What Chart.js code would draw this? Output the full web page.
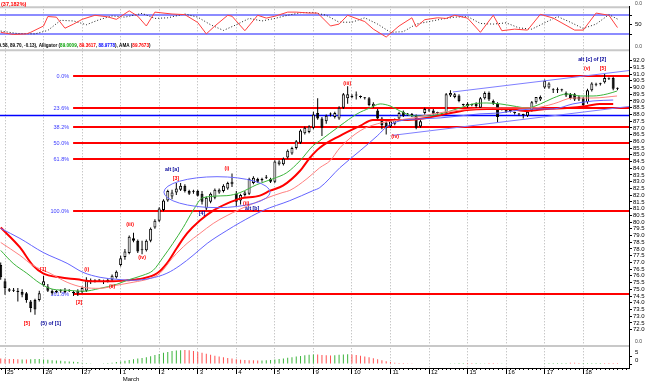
<!DOCTYPE html>
<html><head><meta charset="utf-8">
<script src="https://cdn.jsdelivr.net/npm/chart.js@4.4.0/dist/chart.umd.min.js"></script>
<style>html,body{margin:0;padding:0;background:#fff;overflow:hidden}</style>
</head><body>
<canvas id="c" width="650" height="381"></canvas>
<script>
// ---------- DATA ----------
const dayIdx = [1,10,19,28,37,46,55,64,73,82,91,100,109,118,127,136];
const dayLabels = ['25','26','27',['1','March'],'2','3','4','5','9','10','11','12','15','16','17','18'];
const mainTicks = [72,72.5,73,73.5,74,74.5,75,75.5,76,76.5,77,77.5,78,78.5,79,79.5,80,80.5,81,81.5,82,82.5,83,83.5,84,84.5,85,85.5,86,86.5,87,87.5,88,88.5,89,89.5,90,90.5,91,91.5,92];
const stochTicks = [20,50,80];
const histTicks = [0,5];

const opens = [76.8,75.6,75.0,74.9,74.9,74.8,74.7,74.1,74.2,74.2, 75.3,75.2,74.9,74.8,74.85,74.8,74.9,74.8,74.7,74.8, 74.9,75.6,75.6,75.65,75.6,75.6,75.7,75.9,76.8,77.4, 77.7,78.8,78.6,77.9,77.9,78.6,79.6,80.1,80.9,81.6, 81.9,82.2,82.4,82.7,82.3,82.25,82.3,82.1,81.0,81.5, 81.8,82.2,82.3,82.5,82.8,82.1,81.6,82.0,82.1,82.9, 83.2,83.1,83.3,83.2,83.0,84.3,84.3,84.8,85.1,85.5, 85.9,86.6,86.7,87.0,88.1,87.7,87.5,88.0,87.8,87.7, 88.5,89.2,89.3,89.4,89.3,89.2,89.2,88.6,88.3,87.7, 87.4,87.1,87.3,87.7,88.2,88.0,87.95,87.9,87.1,88.1, 88.3,88.3,88.1,88.0,88.1,89.4,89.3,89.4,88.7,88.8, 88.7,88.8,88.5,89.2,89.6,89.0,88.8,88.4,88.4,88.25, 88.1,88.0,87.95,87.9,88.3,88.9,89.1,90.0,90.0,89.8, 89.8,89.8,89.6,89.5,89.5,89.3,89.2,88.9,89.8,90.2, 90.25,90.4,90.65,90.7,89.9];
const highs = [77.0,75.8,75.1,75.1,75.1,75.0,74.8,74.2,74.3,74.9, 76.0,75.4,75.0,74.95,75.0,75.1,75.0,74.9,75.0,75.2, 75.9,75.8,75.75,75.75,75.7,75.8,76.1,76.4,77.5,78.0, 79.0,79.2,78.7,78.6,78.7,79.6,80.2,81.1,81.7,82.4, 82.4,82.9,82.9,82.8,82.4,82.4,82.4,82.3,81.9,82.2, 82.5,82.5,82.8,83.0,83.6,82.3,82.1,82.3,83.3,83.4, 83.3,83.3,83.5,83.3,84.6,84.6,84.8,85.4,85.6,86.1, 86.9,87.1,87.2,88.2,89.2,87.8,88.0,88.15,88.2,88.6, 89.6,90.1,89.5,89.7,89.4,89.3,89.3,88.9,88.4,87.8, 87.5,87.6,87.7,88.2,88.3,88.1,88.1,88.0,87.6,88.5, 88.4,88.4,88.2,88.1,89.6,89.8,89.6,89.5,88.8,88.9, 88.8,88.9,89.3,89.7,89.7,89.1,88.9,88.5,88.5,88.35, 88.2,88.1,88.05,88.3,89.0,89.3,89.4,90.6,90.4,89.95, 90.0,89.9,89.7,89.6,89.6,89.4,89.3,89.9,90.4,90.35, 90.35,91.0,90.75,90.8,90.0];
const lows = [75.7,74.6,74.8,74.8,74.1,74.4,74.0,73.3,73.1,74.1, 75.2,74.8,74.6,74.7,74.75,74.7,74.8,74.5,74.5,74.7, 74.8,75.4,75.5,75.55,75.4,75.5,75.6,75.8,76.7,77.2, 77.6,78.5,77.7,77.6,77.8,78.5,79.5,80.0,80.8,81.5, 81.7,82.0,82.3,82.2,82.0,82.1,81.9,81.3,80.9,81.4, 81.7,82.1,82.2,82.4,82.6,81.2,81.3,81.9,82.0,82.8, 82.9,83.0,83.2,82.9,82.9,84.2,84.2,84.7,85.0,85.4, 85.8,86.5,86.6,86.9,87.6,86.4,87.3,87.85,87.7,87.6, 88.4,88.8,89.2,89.1,89.2,89.1,88.6,88.5,87.6,86.9, 86.5,87.0,87.2,87.6,87.8,87.9,87.8,86.9,87.0,88.0, 88.2,88.0,88.0,87.9,88.0,89.3,89.2,88.9,88.6,88.5, 88.6,88.5,88.4,89.1,89.0,88.7,87.4,88.3,88.1,88.15, 88.0,87.9,87.7,87.8,88.2,88.8,89.0,89.9,89.9,89.6, 89.6,89.7,89.3,89.1,89.0,89.0,88.6,88.8,89.7,90.1, 90.15,90.3,90.55,89.8,89.8];
const closes = [75.9,75.1,74.9,74.95,74.8,74.6,74.2,73.6,73.5,74.7, 75.6,74.9,74.7,74.85,74.85,74.9,74.9,74.7,74.9,75.1, 75.7,75.6,75.65,75.65,75.55,75.7,76.0,76.3,77.3,77.8, 78.9,78.6,77.8,77.9,78.6,79.5,80.1,81.0,81.6,82.3, 82.2,82.5,82.7,82.3,82.1,82.3,81.95,81.5,81.8,82.1, 82.4,82.4,82.7,82.9,83.0,81.5,82.0,82.2,83.2,83.3, 83.0,83.2,83.3,83.0,84.5,84.5,84.7,85.3,85.5,86.0, 86.8,87.0,87.1,88.0,87.7,87.0,87.9,88.0,88.1,88.5, 89.5,89.5,89.3,89.4,89.3,89.2,88.7,88.8,87.7,87.2, 87.0,87.5,87.6,88.1,87.9,88.0,87.95,87.0,87.5,88.4, 88.3,88.05,88.1,88.0,89.5,89.6,89.5,89.0,88.7,88.6, 88.7,88.6,89.2,89.6,89.1,88.8,87.8,88.4,88.2,88.25, 88.1,88.0,87.95,88.2,88.9,89.3,89.3,90.5,90.3,89.8, 89.8,89.8,89.4,89.2,89.1,89.1,88.7,89.8,90.3,90.25, 90.25,90.7,90.65,89.9,89.9];

// Alligator / AMA lines (bar index, value)
const amaIdx = [0,4.5,7.5,9.9,13.8,17.8,21.5,25.5,29.5,33.2, 36.5,38.8,41.2,43.5,46.5,49.6,52.8,55.9,60.5,62.9, 65.9,69.9,72.2,74.5,79.2,83.9,86.9,90.2,94.9,99.5, 104.2,108.9,113.5,118.2,122.9,127.5,132.2,136.9,139.9,143];
const amaVal = [79.59,78.11,76.78,76.19,75.89,75.74,75.59,75.59,75.67,75.81, 76.19,76.93,78.11,79.15,80.11,80.85,81.37,81.74,81.96,82.33, 82.70,83.81,84.78,85.52,86.41,87.15,87.59,87.59,87.59,87.74, 88.04,88.33,88.41,88.41,88.26,88.41,88.48,88.63,88.78,88.78];
const teethIdx = [0,4.5,7.5,11.5,15.5,19.2,23.2,27.1,30.9,34.9, 37.2,40.2,43.5,46.5,49.6,54.2,58.9,63.6,65.9,67.5, 71.5,74.5,76.9,79.2,83.9,87.9,91.6,96.3,100.9,105.6, 110.3,114.9,119.6,124.3,129,133.6,138.3,143.9];
const teethVal = [78.48,77.52,76.78,76.19,75.52,75.15,75.07,75.30,75.52,75.81, 76.19,77.37,78.41,79.15,79.89,80.70,81.37,81.96,82.20,82.35, 83.22,84.04,84.56,85.52,86.78,87.30,87.52,87.74,88.04,88.26, 88.41,88.48,88.48,88.48,88.78,89.22,89.22,89.37];
const lipsIdx = [0,2.9,6.1,9.2,12.2,15.5,19.2,23.2,27.1,29.5, 33.2,35.6,37.9,40.2,42.6,44.9,47.2,52.8,55.9,59.8, 63.6,66.8,69.9,72.9,74.5,79.2,83.2,86.2,88.6,90.9, 93.2,96.3,99.5,102.6,107.2,110.3,113.5,116.6,119.6,122.9, 126,129,132.2,135.3,138.3,141.6,143.9];
const lipsVal = [77.89,76.93,76.19,75.44,75.00,74.93,74.85,75.07,75.37,75.67, 76.04,76.41,77.37,78.41,79.59,80.85,81.81,81.96,82.19,82.78, 83.22,83.67,84.56,85.67,86.04,87.15,88.04,88.48,88.78,88.63, 88.26,87.89,87.89,88.04,88.48,88.78,88.85,88.78,88.63,88.48, 88.78,89.22,89.52,89.37,89.37,89.52,89.74];
const jawIdx = [0,4.5,9.9,15.5,19.2,23.2,27.1,30.9,34.9,38.8, 41.9,44.9,48.2,52.8,55.9,61.2,67.5,72.9,74.5,79.2, 83.9,87.9,90.2,93.2,97.9,102.6,107.2,111.9,116.6,121.2, 125.9,129,133.6,138.3,143];
const jawVal = [79.52,78.78,77.74,76.93,76.26,75.89,75.74,75.67,75.81,76.19, 76.78,77.52,78.41,79.37,79.96,80.85,81.59,82.33,82.56,84.04, 85.30,86.40,87.10,87.52,87.67,87.74,87.89,88.04,88.11,88.33, 88.41,88.41,88.78,89.00,89.07];

// channel trendlines
const upperTrendIdx = [105.6,146.7];
const upperTrendVal = [89.67,91.26];
const lowerTrendIdx = [91.4,146.7];
const lowerTrendVal = [86.44,88.59];

// Fibonacci levels
const fibLevels = [90.85,88.49,87.03,85.85,84.67,80.85,74.67];
const fibLabels = ['0.0%','23.6%','38.2%','50.0%','61.8%','100.0%','161.8%'];
const fibStartIdx = 16.9;
const pivotLevel = 87.95;
const ellipseArea = [50.5,82.22,12.4,1.15]; // centre idx, centre value, half-width idx, half-height value

// Elliott wave labels
const waveText = ['[5]','(5) of [1]','[1]','(i)','[2]','(ii)','(iii)','(iv)','alt [a]','[3]','[4]','(i)','(ii)','alt [b]','(iii)','(iv)','alt [c] of [2]','(v)','[5]'];
const waveIdx = [6.1,11.7,9.9,20.1,18.3,26.0,30.2,33.0,40.0,40.9,47.0,52.8,57.3,58.7,80.9,92.1,138.1,136.9,140.6];
const waveVal = [72.48,72.48,76.48,76.48,74.04,75.22,79.81,77.37,83.89,83.22,80.63,83.96,81.37,81.0,90.33,86.33,92.04,91.44,91.44];
const waveGroup = [0,1,0,0,0,0,0,0,1,0,1,0,0,1,0,0,1,0,0];

// Stochastic
const stochLevels = [80,20];
const stochKIdx = [0,3,6,7,10,11,13,15,17,19,22,25,27,30,32,34,36,40,43,46,48,50,53,54,57,60,62,64,67,69,72,74,77,79,81,85,87,90,93,96,97,99,102,104,106,109,112,115,117,120,123,126,129,134,136,139,142,144];
const stochK = [26,19,21,26,46,76,74,39,52,67,80,75,67,94,77,46,90,84,82,57,21,46,80,77,31,80,71,77,90,90,87,87,46,52,80,60,36,11,46,72,43,66,72,70,80,71,26,80,31,36,33,83,71,33,33,87,80,41];
const stochDIdx = [0,4,8,11,14,17,20,23,26,29,33,36,39,43,46,49,52,55,58,61,64,67,70,73,76,79,82,85,88,91,94,97,100,103,106,109,112,115,118,121,124,127,130,133,136,139,142,144];
const stochD = [30,22,21,32,64,62,50,66,78,74,86,70,72,84,74,50,32,50,70,62,70,80,88,89,80,58,58,72,52,26,28,52,60,68,74,76,54,52,56,40,36,56,76,58,38,52,82,68];

// Histogram oscillator
const histVals = [3.4,3.3,3.2,3.1,3.0,2.9,2.8,3.0,3.1,3.2, 2.8,2.6,2.4,2.2,2.0,1.8,1.6,1.4,1.2,0.8, 0.6,0.5,0.4,0.4,0.5,0.6,0.8,1.2,1.6,2.0, 2.5,3.0,3.4,3.8,4.3,4.9,5.6,6.3,7.0,7.6, 8.1,8.5,8.7,8.8,8.6,8.2,7.6,7.0,6.4,5.8, 5.2,4.7,4.2,3.8,3.4,3.0,2.7,2.5,2.4,2.3, 2.2,2.2,2.3,2.5,2.8,3.1,3.5,3.9,4.3,4.7, 5.1,5.5,5.8,6.0,5.9,5.7,5.5,5.4,5.5,5.8, 6.0,6.1,5.9,5.6,5.2,4.7,4.2,3.6,3.0,2.4, 1.8,1.2,0.8,0.6,0.6,0.5,0.5,0.4,0.4,0, 0,0,0,0,0.4,0.5,0.5,0.6,0.6,0.7, 0.6,0.6,0.5,0.5,0.6,0.6,0.5,0.5,0.4,0.4, 0.4,0.3,0,0,0,0,0,0.5,0.6,0.6, 0.7,0.7,0.7,0.8,0.8,0.7,0.7,0.6,0.6,0.6, 0.7,0.7,0.7,0.6,0.6];
const histDir = [-1,-1,-1,-1,-1,1,-1,1,1,1, 1,1,1,1,1,1,1,1,1,1, 1,1,1,1,1,1,1,1,1,1, 1,1,1,1,1,1,1,1,1,1, 1,1,1,-1,-1,-1,-1,-1,-1,-1, -1,-1,-1,-1,-1,-1,-1,-1,-1,-1, -1,1,1,1,1,1,1,1,1,1, 1,1,1,1,-1,-1,-1,-1,1,1, 1,1,-1,-1,-1,-1,-1,-1,-1,-1, -1,-1,-1,-1,-1,-1,-1,-1,-1,-1, 1,1,1,1,1,1,1,1,1,-1, -1,1,1,1,-1,-1,-1,1,1,-1, -1,1,1,1,1,1,1,1,1,1, 1,1,1,-1,-1,-1,1,1,1,1, 1,-1,-1,-1,-1];

// ---------- CHART ----------
const FONT = 'Liberation Sans';
const F = (s, b) => (b ? 'bold ' : '') + s + 'px "' + FONT + '", Arial, sans-serif';
const pts = (xs, ys) => xs.map((v, i) => ({x: v, y: ys[i]}));

const overlay = {
  id: 'overlay',
  beforeDatasetsDraw(chart) {
    const {ctx, chartArea: ca} = chart;
    const {x, yStoch, yMain} = chart.scales;
    const yHist = chart.scales.yHist;
    const hline = (y, x0, x1, color, w) => {
      ctx.beginPath(); ctx.setLineDash([]); ctx.strokeStyle = color; ctx.lineWidth = w;
      ctx.moveTo(x0, y); ctx.lineTo(x1, y); ctx.stroke();
    };
    ctx.save();
    [yStoch, yMain, yHist].forEach(s => hline(s.top + 1, ca.left, ca.right, '#c8c8c8', 2));
    stochLevels.forEach(v => hline(Math.round(yStoch.getPixelForValue(v)), ca.left, ca.right, '#8c8cff', 2));
    const fx = x.getPixelForValue(fibStartIdx);
    ctx.font = F(5.5); ctx.textAlign = 'right'; ctx.textBaseline = 'middle';
    fibLevels.forEach((v, i) => {
      const y = Math.round(yMain.getPixelForValue(v));
      hline(y, fx, ca.right, '#ff0000', 2);
      ctx.fillStyle = '#3c3cff';
      ctx.fillText(fibLabels[i], fx - 4, y);
    });
    hline(Math.round(yMain.getPixelForValue(pivotLevel)) + 0.5, ca.left, ca.right, '#0000ff', 1.5);
    ctx.restore();
  },
  afterDatasetsDraw(chart) {
    const {ctx} = chart;
    const {x, yMain} = chart.scales;
    ctx.save();
    const cx = x.getPixelForValue(ellipseArea[0]), cy = yMain.getPixelForValue(ellipseArea[1]);
    const rx = Math.abs(x.getPixelForValue(ellipseArea[0] + ellipseArea[2]) - cx);
    const ry = Math.abs(yMain.getPixelForValue(ellipseArea[1] + ellipseArea[3]) - cy);
    ctx.beginPath(); ctx.ellipse(cx, cy, rx, ry, 0, 0, Math.PI * 2);
    ctx.strokeStyle = '#6a6aff'; ctx.lineWidth = 1; ctx.stroke();
    ctx.font = F(5.2, true); ctx.textAlign = 'center'; ctx.textBaseline = 'middle';
    waveText.forEach((t, i) => {
      ctx.fillStyle = waveGroup[i] ? '#000099' : '#ff0000';
      ctx.fillText(t, x.getPixelForValue(waveIdx[i]), yMain.getPixelForValue(waveVal[i]));
    });
    ctx.restore();
  },
  afterDraw(chart) {
    const {ctx, chartArea: ca} = chart;
    const {x, yStoch, yMain, yHist} = chart.scales;
    ctx.save();
    ctx.strokeStyle = '#000'; ctx.lineWidth = 1;
    for (let i = Math.ceil(x.min); i <= x.max; i++) {
      if (dayIdx.includes(i)) continue;
      const px = Math.round(x.getPixelForValue(i)) + 0.5;
      ctx.beginPath(); ctx.moveTo(px, ca.bottom); ctx.lineTo(px, ca.bottom + 2); ctx.stroke();
    }
    ctx.textBaseline = 'middle'; ctx.textAlign = 'left';
    ctx.font = F(5.5, true); ctx.fillStyle = '#ff0000';
    ctx.fillText('(37,182%)', 1, yStoch.top - 2);
    const segs = [['89.58, 89.70, -0.13), Alligator (', '#000'], ['89.0009', '#00a000'], [', ', '#000'], ['89.3617', '#ff0000'], [', ', '#000'], ['88.9778', '#0000ff'], ['), AMA (', '#000'], ['89.7673', '#ff0000'], [')', '#000']];
    ctx.font = F(4.6, true);
    let tx = -4;
    segs.forEach(([t, c]) => { ctx.fillStyle = c; ctx.fillText(t, tx, yMain.top - 3); tx += ctx.measureText(t).width; });
    ctx.font = F(5); ctx.fillStyle = '#444';
    [yStoch, yMain, yHist].forEach(s => ctx.fillText('0.0', ca.right + 6, s.top - 3));
    ctx.restore();
  }
};

const tickFont = {family: FONT, size: 6, lineHeight: 1.1};
const yBase = (extra) => Object.assign({
  type: 'linear', position: 'right', stack: 'v', bounds: 'data',
  afterFit: s => { s.width = 21; },
  grid: {drawOnChartArea: false, tickLength: 3, tickColor: '#000'},
  border: {display: true, color: '#000'}
}, extra);

new Chart(document.getElementById('c'), {
  type: 'bar',
  data: {
    datasets: [
      {type: 'line', yAxisID: 'yMain', data: pts(upperTrendIdx, upperTrendVal), borderColor: '#7f7fff', borderWidth: 1, pointRadius: 0, order: 1},
      {type: 'line', yAxisID: 'yMain', data: pts(lowerTrendIdx, lowerTrendVal), borderColor: '#7f7fff', borderWidth: 1, pointRadius: 0, order: 1},
      {type: 'line', yAxisID: 'yMain', data: pts(jawIdx, jawVal), borderColor: '#6464ff', borderWidth: 1, pointRadius: 0, cubicInterpolationMode: 'monotone', order: 2},
      {type: 'line', yAxisID: 'yMain', data: pts(teethIdx, teethVal), borderColor: '#ff8080', borderWidth: 1, pointRadius: 0, cubicInterpolationMode: 'monotone', order: 2},
      {type: 'line', yAxisID: 'yMain', data: pts(lipsIdx, lipsVal), borderColor: '#3cb43c', borderWidth: 1, pointRadius: 0, cubicInterpolationMode: 'monotone', order: 2},
      {type: 'line', yAxisID: 'yMain', data: pts(amaIdx, amaVal), borderColor: '#ff0000', borderWidth: 2, pointRadius: 0, cubicInterpolationMode: 'monotone', order: 2},
      {type: 'bar', yAxisID: 'yMain', grouped: false, order: 5,
        data: opens.map((o, i) => ({x: i, y: [o, closes[i]]})),
        backgroundColor: c => closes[c.dataIndex] >= opens[c.dataIndex] ? '#ffffff' : '#000000',
        borderColor: '#000', borderWidth: 1, borderSkipped: false, barThickness: 3, minBarLength: 1, inflateAmount: 0},
      {type: 'bar', yAxisID: 'yMain', grouped: false, order: 6,
        data: lows.map((l, i) => ({x: i, y: [l, highs[i]]})),
        backgroundColor: '#000', borderWidth: 0, barThickness: 1, inflateAmount: 0},
      {type: 'line', yAxisID: 'yStoch', data: pts(stochDIdx, stochD), borderColor: '#222', borderWidth: 1, borderDash: [1, 2], pointRadius: 0, order: 3},
      {type: 'line', yAxisID: 'yStoch', data: pts(stochKIdx, stochK), borderColor: '#ff4040', borderWidth: 1, pointRadius: 0, order: 2},
      {type: 'bar', yAxisID: 'yHist', grouped: false, order: 4,
        data: histVals.map((v, i) => ({x: i, y: v})),
        backgroundColor: c => histDir[c.dataIndex] > 0 ? '#3cb43c' : '#ff5050',
        borderWidth: 0, barThickness: 1, inflateAmount: 0}
    ]
  },
  options: {
    responsive: false, animation: false, devicePixelRatio: 1, events: [],
    layout: {padding: {top: 5, left: 0, right: 0, bottom: 0}},
    plugins: {legend: {display: false}, tooltip: {enabled: false}},
    scales: {
      x: {
        type: 'linear', position: 'bottom', min: -0.1674, max: 146.69, offset: false, bounds: 'data',
        afterBuildTicks: s => { s.ticks = dayIdx.map(v => ({value: v})); },
        afterFit: s => { s.height = 13; },
        ticks: {autoSkip: false, maxRotation: 0, align: 'start', labelOffset: 2, padding: -5, font: tickFont, color: '#000',
          callback: (v, i) => dayLabels[i]},
        grid: {offset: false, color: '#b0b0b0', tickColor: '#000', tickLength: 6, tickBorderDash: [], lineWidth: 1},
        border: {display: true, color: '#000', dash: [1, 2]}
      },
      yStoch: yBase({stackWeight: 43, min: -27.37, max: 108.42,
        afterBuildTicks: s => { s.ticks = stochTicks.map(v => ({value: v})); },
        ticks: {autoSkip: false, font: tickFont, color: '#000', padding: 3, callback: v => v === 50 ? '50' : ''}}),
      yMain: yBase({stackWeight: 297, min: 70.852, max: 92.852,
        afterBuildTicks: s => { s.ticks = mainTicks.map(v => ({value: v})); },
        ticks: {autoSkip: false, font: tickFont, color: '#000', padding: 1, callback: v => v.toFixed(1)}}),
      yHist: yBase({stackWeight: 23, min: -2.5, max: 11.875,
        afterBuildTicks: s => { s.ticks = histTicks.map(v => ({value: v})); },
        ticks: {autoSkip: false, font: tickFont, color: '#000', padding: 3, labelOffset: -4, callback: v => String(v)}})
    }
  },
  plugins: [overlay]
});
</script>
</body></html>
